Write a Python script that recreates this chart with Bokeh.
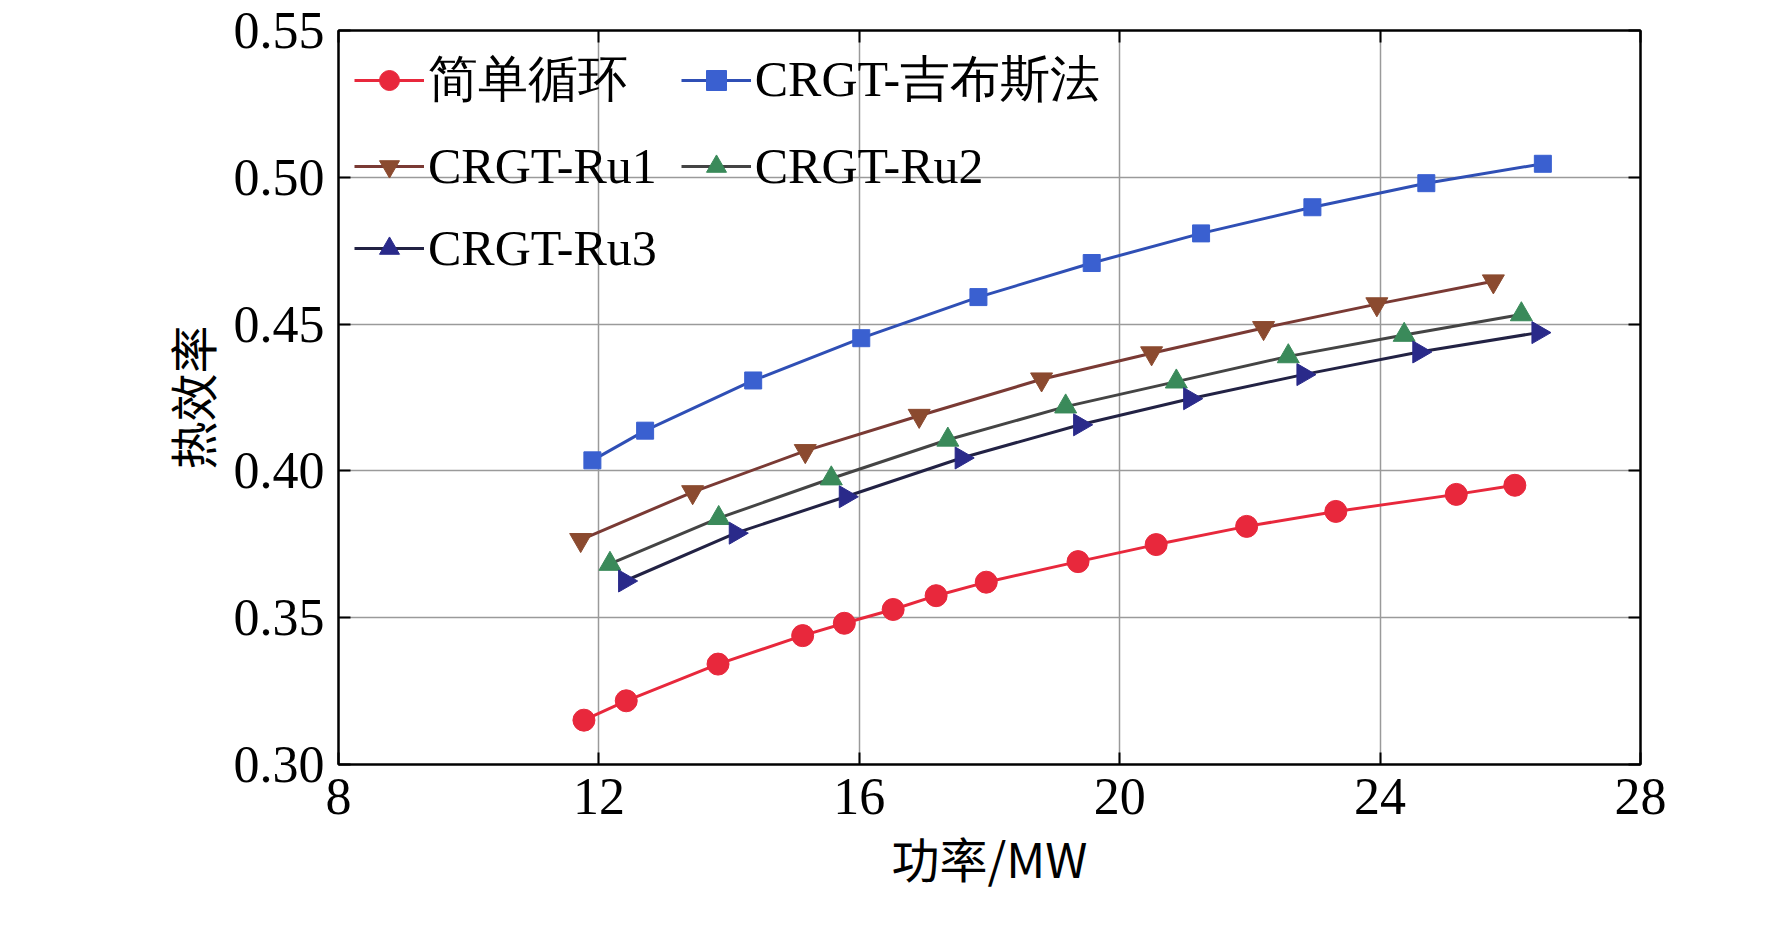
from bokeh.plotting import figure
from bokeh.models import LinearAxis, Range1d, Legend, LegendItem, FixedTicker, NumeralTickFormatter
from bokeh.embed import file_html
from bokeh.resources import INLINE

names = ["简单循环", "CRGT-吉布斯法", "CRGT-Ru1", "CRGT-Ru2", "CRGT-Ru3"]
x_simple = [11.77, 12.42, 13.83, 15.13, 15.77, 16.52, 17.18, 17.95, 19.36, 20.56, 21.95, 23.32, 25.17, 26.07]
y_simple = [0.3151, 0.3217, 0.3342, 0.3439, 0.3481, 0.3528, 0.3575, 0.3621, 0.3691, 0.3749, 0.3811, 0.3862, 0.3920, 0.3951]
x_gibbs = [11.9, 12.71, 14.37, 16.03, 17.83, 19.57, 21.25, 22.96, 24.71, 26.5]
y_gibbs = [0.4036, 0.4137, 0.4308, 0.4452, 0.4592, 0.4708, 0.4809, 0.4898, 0.4980, 0.5046]
x_ru1 = [11.72, 13.44, 15.17, 16.92, 18.8, 20.49, 22.21, 23.95, 25.74]
y_ru1 = [0.3765, 0.3928, 0.4068, 0.4188, 0.4312, 0.4401, 0.4487, 0.4568, 0.4646]
x_ru2 = [12.17, 13.84, 15.57, 17.36, 19.17, 20.87, 22.59, 24.37, 26.17]
y_ru2 = [0.3683, 0.3839, 0.3974, 0.4106, 0.4219, 0.4304, 0.4390, 0.4463, 0.4533]
x_ru3 = [12.4, 14.1, 15.79, 17.57, 19.39, 21.08, 22.82, 24.6, 26.43]
y_ru3 = [0.3625, 0.3788, 0.3912, 0.4044, 0.4157, 0.4246, 0.4328, 0.4405, 0.4471]
x_ticks = [8, 12, 16, 20, 24, 28]
y_ticks = [0.30, 0.35, 0.40, 0.45, 0.50, 0.55]

p = figure(width=1750, height=924, output_backend="svg", toolbar_location=None,
           x_range=Range1d(8, 28), y_range=Range1d(0.30, 0.55),
           min_border_left=338, min_border_right=110, min_border_top=30, min_border_bottom=160)
p.outline_line_color = "black"
p.outline_line_width = 2
serif = "Liberation Serif"
cjk = "Noto Sans CJK SC"

p.xaxis[0].ticker = FixedTicker(ticks=x_ticks)
p.yaxis[0].ticker = FixedTicker(ticks=y_ticks)
p.yaxis[0].formatter = NumeralTickFormatter(format="0.00")
for ax in [p.xaxis[0], p.yaxis[0]]:
    ax.major_tick_in = 12; ax.major_tick_out = 0
    ax.minor_tick_line_color = None
    ax.axis_line_width = 2; ax.major_tick_line_width = 2
    ax.major_label_text_font = serif
    ax.major_label_text_font_size = "52px"
    ax.major_label_text_color = "black"
    ax.major_label_standoff = 14
    ax.axis_label_text_font = cjk
    ax.axis_label_text_font_style = "normal"
    ax.axis_label_text_font_size = "48px"
    ax.axis_label_text_color = "black"
p.xaxis[0].axis_label = "功率/MW"
p.yaxis[0].axis_label = "热效率"
for loc, t in [("right", y_ticks), ("above", x_ticks)]:
    a = LinearAxis(ticker=FixedTicker(ticks=t), major_tick_in=12, major_tick_out=0,
                   minor_tick_line_color=None, major_label_text_font_size="0px",
                   axis_line_width=2, major_tick_line_width=2)
    p.add_layout(a, loc)
p.grid.grid_line_color = "#9a9a9a"
p.grid.grid_line_width = 1.5
p.xgrid.ticker = FixedTicker(ticks=x_ticks)
p.ygrid.ticker = FixedTicker(ticks=y_ticks)

series = [
    (x_simple, y_simple, "#e8283c", "#e8283c", "circle", 0),
    (x_gibbs, y_gibbs, "#2f4fb5", "#3a60d0", "square", 0),
    (x_ru1, y_ru1, "#7a3a34", "#8b4a2f", "inverted_triangle", 0),
    (x_ru2, y_ru2, "#444444", "#3a8a5a", "triangle", 0),
    (x_ru3, y_ru3, "#222244", "#2a2a8a", "triangle", 90),
]
items = []
for (xs, ys, lc, mc, mk, ang), nm in zip(series, names):
    r1 = p.line(xs, ys, line_color=lc, line_width=3)
    size = 22 if mk != "square" else 17
    kw = dict(marker=mk, size=size, fill_color=mc, line_color=mc)
    if ang:
        kw["angle"] = -ang
        kw["angle_units"] = "deg"
    r2 = p.scatter(xs, ys, **kw)
    items.append(LegendItem(label=nm, renderers=[r1, r2]))
order = [0, 2, 4, 1, 3]
leg = Legend(items=[items[i] for i in order], location="top_left", ncols=2, background_fill_alpha=0,
             border_line_color=None, label_text_font=serif, label_text_font_size="50px",
             label_text_color="black",
             glyph_width=70, glyph_height=50, spacing=24, label_standoff=4, margin=16)
p.add_layout(leg)

open("out.html", "w").write(file_html(p, INLINE))
